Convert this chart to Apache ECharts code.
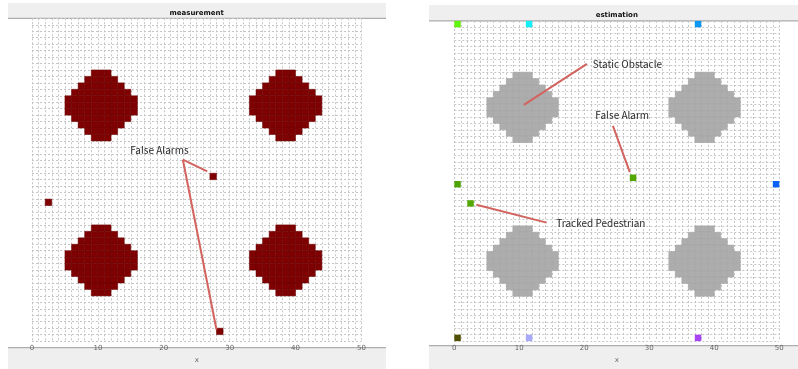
<!DOCTYPE html>
<html>
<head>
<meta charset="utf-8">
<script src="https://cdn.jsdelivr.net/npm/echarts@6/dist/echarts.min.js"></script>
<style>
  html, body { margin: 0; padding: 0; background: #ffffff; }
  #chart { width: 798px; height: 369px; }
</style>
</head>
<body>
<div id="chart"></div>
<script>
// Occupancy grid: 50 x 50 cells, cell (i, j) covers [i, i+1] x [j, j+1]
const gridSize = 50;
const tickLabels = [0, 10, 20, 30, 40, 50];

// Static obstacles: centre cell of each blob and the half-width of every row (top row first)
const obstacleCenters = [[10, 36], [38, 36], [10, 12], [38, 12]];
const obstacleRowHalfWidths = [1, 2, 3, 4, 5, 5, 5, 4, 3, 2, 1];

// Left panel: raw detections that are not obstacles
const measurementExtraCells = [[2, 21], [27, 25], [28, 1]];

// Right panel: estimated objects
const trackCells = [[0, 49], [11, 49], [37, 49], [0, 24], [49, 24], [2, 21], [27, 25], [0, 0], [11, 0], [37, 0]];
const trackColors = ['#62f40c', '#14eef6', '#0a98f4', '#4da400', '#0a62fa', '#52a800', '#52a800', '#505000', '#a9a9fb', '#a844f6'];

// Expand the obstacle blobs into individual cells
function obstacleCells() {
  const cells = [];
  const half = (obstacleRowHalfWidths.length - 1) / 2;
  obstacleCenters.forEach(([cx, cy]) => {
    obstacleRowHalfWidths.forEach((hw, r) => {
      const y = cy + half - r;
      for (let x = cx - hw; x <= cx + hw; x++) cells.push([x, y]);
    });
  });
  return cells;
}

// Callouts, in data units of their panel
const measurementNotes = [
  { text: 'False Alarms', at: [14.9, 29.6], lines: [[[22.9, 28.1], [26.6, 26.3]], [[22.9, 28.1], [28.0, 1.8]]] }
];
const estimationNotes = [
  { text: 'Static Obstacle', at: [21.3, 43.3], lines: [[[20.4, 43.3], [10.7, 36.9]]] },
  { text: 'False Alarm', at: [21.7, 35.2], lines: [[[24.4, 33.6], [27.0, 26.4]]] },
  { text: 'Tracked Pedestrian', at: [15.7, 18.4], lines: [[[3.4, 21.3], [14.2, 18.5]]] }
];

const panels = [
  { left: 32, top: 18.3, width: 329.4, height: 329.4 },
  { left: 454.3, top: 20.9, width: 325, height: 324.8 }
];

function xAxisFor(gi) {
  return {
    type: 'value', gridIndex: gi, min: 0, max: gridSize, interval: 1,
    name: 'x', nameLocation: 'middle', nameGap: 13,
    nameTextStyle: { fontSize: 7, color: '#666', fontFamily: 'DejaVu Sans' },
    axisLine: { show: false }, axisTick: { show: false },
    axisLabel: {
      fontSize: 7, color: '#666', margin: 4, fontFamily: 'DejaVu Sans',
      formatter: v => (tickLabels.indexOf(v) >= 0 ? String(v) : '')
    },
    splitLine: { show: true, lineStyle: { color: '#c6c6c6', width: 1, type: [2, 2] } }
  };
}
function yAxisFor(gi) {
  return {
    type: 'value', gridIndex: gi, min: 0, max: gridSize, interval: 1,
    axisLine: { show: false }, axisTick: { show: false }, axisLabel: { show: false },
    splitLine: { show: true, lineStyle: { color: '#c6c6c6', width: 1, type: [2, 2] } }
  };
}

function cellRenderer(stroke) {
  return function (params, api) {
    const x = api.value(0), y = api.value(1);
    const p0 = api.coord([x, y + 1]);
    const p1 = api.coord([x + 1, y]);
    return {
      type: 'rect',
      shape: { x: p0[0], y: p0[1], width: p1[0] - p0[0], height: p1[1] - p0[1] },
      style: { fill: api.visual('color'), stroke: stroke, lineWidth: stroke ? 0.5 : 0 }
    };
  };
}

function noteSeries(gi, notes) {
  return {
    type: 'custom', xAxisIndex: gi, yAxisIndex: gi, z: 10, silent: true,
    data: notes.map((n, i) => [n.at[0], n.at[1], i]),
    renderItem: function (params, api) {
      const note = notes[api.value(2)];
      const children = note.lines.map(seg => {
        const a = api.coord(seg[0]), b = api.coord(seg[1]);
        return {
          type: 'line', shape: { x1: a[0], y1: a[1], x2: b[0], y2: b[1] },
          style: { stroke: '#d2635e', lineWidth: 2 }
        };
      });
      const t = api.coord(note.at);
      children.push({
        type: 'text',
        style: {
          x: t[0], y: t[1], text: note.text, fill: '#2b2b2b',
          font: '10px "Noto Sans CJK JP"', verticalAlign: 'middle', align: 'left'
        }
      });
      return { type: 'group', children: children };
    }
  };
}

const obstacles = obstacleCells();

const chart = echarts.init(document.getElementById('chart'), null, { renderer: 'canvas' });
chart.setOption({
  animation: false,
  backgroundColor: '#ffffff',
  grid: panels.map(p => ({ left: p.left, top: p.top, width: p.width, height: p.height, containLabel: false })),
  xAxis: [xAxisFor(0), xAxisFor(1)],
  yAxis: [yAxisFor(0), yAxisFor(1)],
  graphic: [
    // panel frames: header strip and footer strip
    { type: 'rect', z: -5, shape: { x: 8, y: 3, width: 378, height: 15.3 }, style: { fill: '#efefef' } },
    { type: 'line', z: -4, shape: { x1: 8, y1: 18.3, x2: 386, y2: 18.3 }, style: { stroke: '#9a9a9a', lineWidth: 1 } },
    { type: 'rect', z: -5, shape: { x: 8, y: 347.7, width: 378, height: 22 }, style: { fill: '#efefef' } },
    { type: 'line', z: -4, shape: { x1: 8, y1: 347.7, x2: 386, y2: 347.7 }, style: { stroke: '#9a9a9a', lineWidth: 1 } },
    { type: 'rect', z: -5, shape: { x: 429, y: 5, width: 369, height: 15.9 }, style: { fill: '#efefef' } },
    { type: 'line', z: -4, shape: { x1: 429, y1: 20.9, x2: 798, y2: 20.9 }, style: { stroke: '#9a9a9a', lineWidth: 1 } },
    { type: 'rect', z: -5, shape: { x: 429, y: 345.7, width: 369, height: 24 }, style: { fill: '#efefef' } },
    { type: 'line', z: -4, shape: { x1: 429, y1: 345.7, x2: 798, y2: 345.7 }, style: { stroke: '#9a9a9a', lineWidth: 1 } },
    { type: 'text', z: 5, style: { x: 196.7, y: 13.5, text: 'measurement', fill: '#111', font: 'bold 7px "DejaVu Sans"', align: 'center', verticalAlign: 'middle' } },
    { type: 'text', z: 5, style: { x: 616.8, y: 15.6, text: 'estimation', fill: '#111', font: 'bold 7px "DejaVu Sans"', align: 'center', verticalAlign: 'middle' } }
  ],
  series: [
    {
      type: 'custom', xAxisIndex: 0, yAxisIndex: 0, silent: true,
      itemStyle: { color: '#7f0000' },
      renderItem: cellRenderer('#6a0000'),
      data: obstacles.concat(measurementExtraCells)
    },
    {
      type: 'custom', xAxisIndex: 1, yAxisIndex: 1, silent: true,
      itemStyle: { color: '#adadad' },
      renderItem: cellRenderer('#a2a2a2'),
      data: obstacles
    },
    {
      type: 'custom', xAxisIndex: 1, yAxisIndex: 1, silent: true,
      renderItem: cellRenderer(null),
      data: trackCells.map((c, i) => ({ value: c, itemStyle: { color: trackColors[i] } }))
    },
    noteSeries(0, measurementNotes),
    noteSeries(1, estimationNotes)
  ]
});
</script>
</body>
</html>
